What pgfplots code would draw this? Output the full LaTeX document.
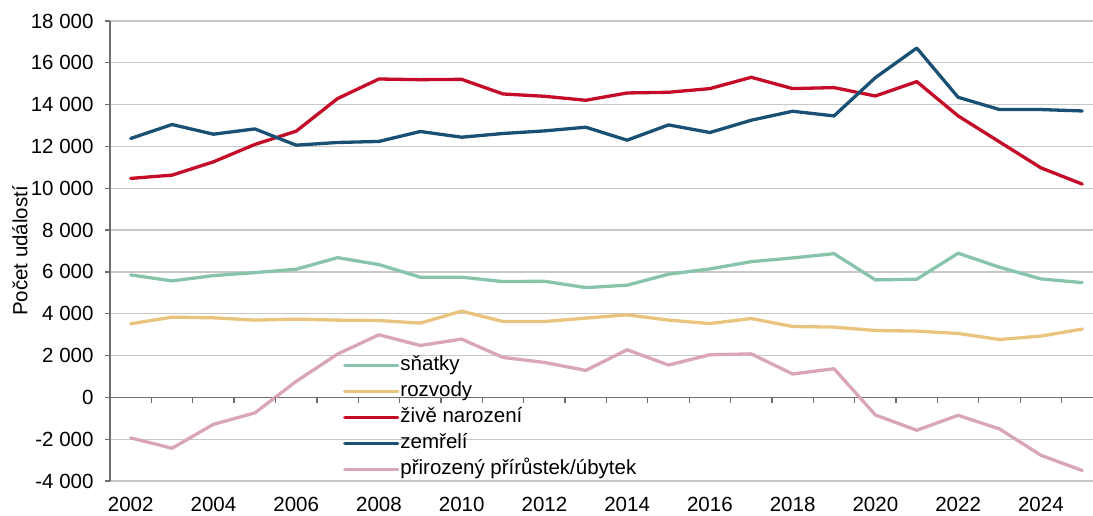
\documentclass[border=0pt]{standalone}
\usepackage{fontspec}
\setmainfont{Liberation Sans}
\usepackage{pgfplots}
\pgfplotsset{compat=1.18}
\definecolor{cSn}{RGB}{136,196,170}
\definecolor{cRo}{RGB}{233,196,127}
\definecolor{cZi}{RGB}{196,12,40}
\definecolor{cZe}{RGB}{26,80,116}
\definecolor{cPr}{RGB}{217,166,183}
\definecolor{cGrid}{RGB}{200,200,200}
\definecolor{cAxis}{RGB}{110,110,110}
\newcommand{\ff}{\fontsize{20.5}{24}\selectfont}
\begin{document}
\begin{tikzpicture}
\useasboundingbox (0,0) rectangle (1093pt,515pt);
\begin{axis}[
  at={(110pt,34pt)}, anchor=south west,
  scale only axis, width=983pt, height=460pt,
  xmin=2001.5, xmax=2025.26, ymin=-4000, ymax=18000,
  scaled ticks=false,
  axis y line*=left, axis x line*=bottom,
  x axis line style={draw=none},
  y axis line style={draw=cAxis, line width=1.3pt},
  xtick={2002,2004,...,2024},
  xticklabels={2002,2004,2006,2008,2010,2012,2014,2016,2018,2020,2022,2024},
  xtick style={draw=none},
  xticklabel style={font=\ff, yshift=-8pt},
  ytick={-4000,-2000,2000,4000,6000,8000,10000,12000,14000,16000,18000},
  yticklabels={-4~000,-2~000,2~000,4~000,6~000,8~000,10~000,12~000,14~000,16~000,18~000},
  extra y ticks={0}, extra y tick labels={0},
  extra y tick style={grid style={draw=cAxis, line width=1.3pt}},
  yticklabel style={font=\ff, xshift=-8pt},
  ytick style={draw=cAxis, line width=1.3pt},
  tick align=outside, major tick length=5pt,
  ymajorgrids, grid style={draw=cGrid, line width=1.3pt},
  ylabel={Počet událostí},
  ylabel style={font=\ff, at={(axis description cs:-0.0916,0.5)}, anchor=center},
  legend cell align=left,
  legend style={draw=none, fill=none, inner sep=0pt, font=\ff,
    at={(axis description cs:0.237,0.275)}, anchor=north west,
    row sep=4.2pt,
    nodes={inner sep=1pt, text height=15pt, text depth=4.8pt},
    /tikz/every even column/.append style={column sep=3pt}},
  legend image code/.code={\draw[#1] (0pt,0pt) -- (53pt,0pt);},
  every axis plot/.append style={line width=3.3pt, line cap=round, line join=round},
]
\addplot[cSn] coordinates {
(2002,5856)(2003,5570)(2004,5823)(2005,5966)(2006,6128)(2007,6682)(2008,6350)
(2009,5747)(2010,5747)(2011,5537)(2012,5553)(2013,5250)(2014,5365)(2015,5890)
(2016,6143)(2017,6491)(2018,6668)(2019,6873)(2020,5618)(2021,5651)(2022,6892)
(2023,6224)(2024,5666)(2025,5489)};
\addlegendentry{sňatky}
\addplot[cRo] coordinates {
(2002,3518)(2003,3837)(2004,3804)(2005,3694)(2006,3742)(2007,3694)(2008,3675)
(2009,3551)(2010,4124)(2011,3627)(2012,3627)(2013,3790)(2014,3947)(2015,3694)
(2016,3532)(2017,3770)(2018,3389)(2019,3360)(2020,3198)(2021,3169)(2022,3055)
(2023,2768)(2024,2931)(2025,3265)};
\addlegendentry{rozvody}
\addplot[cZi] coordinates {
(2002,10472)(2003,10629)(2004,11264)(2005,12095)(2006,12730)(2007,14290)(2008,15226)
(2009,15194)(2010,15210)(2011,14510)(2012,14400)(2013,14209)(2014,14558)(2015,14591)
(2016,14767)(2017,15307)(2018,14767)(2019,14815)(2020,14414)(2021,15101)(2022,13460)
(2023,12219)(2024,10978)(2025,10200)};
\addlegendentry{živě narození}
\addplot[cZe] coordinates {
(2002,12381)(2003,13049)(2004,12586)(2005,12839)(2006,12061)(2007,12190)(2008,12240)
(2009,12715)(2010,12443)(2011,12620)(2012,12744)(2013,12920)(2014,12300)(2015,13031)
(2016,12667)(2017,13255)(2018,13684)(2019,13460)(2020,15292)(2021,16705)(2022,14352)
(2023,13765)(2024,13765)(2025,13698)};
\addlegendentry{zemřelí}
\addplot[cPr] coordinates {
(2002,-1938)(2003,-2434)(2004,-1289)(2005,-745)(2006,764)(2007,2071)(2008,2993)
(2009,2482)(2010,2787)(2011,1909)(2012,1671)(2013,1289)(2014,2277)(2015,1546)
(2016,2038)(2017,2080)(2018,1117)(2019,1370)(2020,-840)(2021,-1575)(2022,-859)
(2023,-1508)(2024,-2768)(2025,-3499)};
\addlegendentry{přirozený přírůstek/úbytek}
\end{axis}
\begin{axis}[
  at={(110pt,34pt)}, anchor=south west,
  scale only axis, width=983pt, height=460pt,
  xmin=2001.5, xmax=2025.26, ymin=-4000, ymax=18000,
  axis x line*=middle, axis y line=none,
  x axis line style={draw=none},
  xtick={2002.5,2003.5,...,2024.5}, xticklabels={},
  xtick style={draw=cAxis, line width=1.3pt},
  xtick align=outside, major tick length=6pt,
]
\addplot[draw=none] coordinates {(2002,0)};
\end{axis}
\end{tikzpicture}
\end{document}
